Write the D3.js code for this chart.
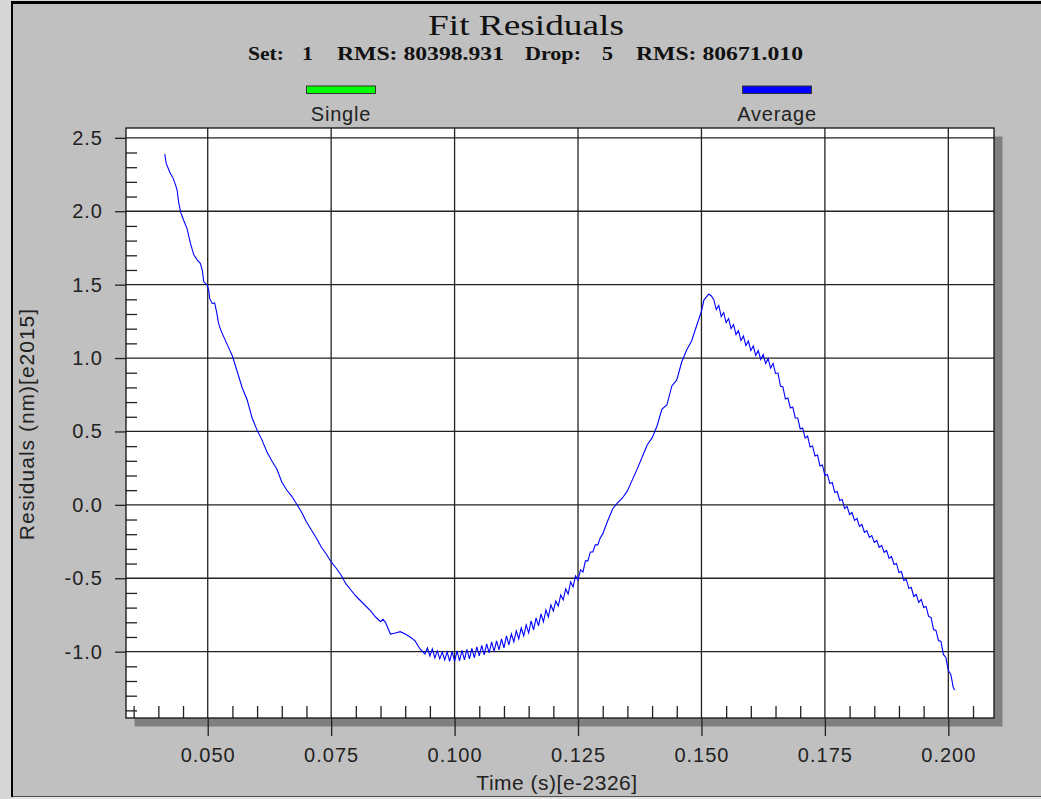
<!DOCTYPE html>
<html>
<head>
<meta charset="utf-8">
<script src="https://cdn.jsdelivr.net/npm/d3@7"></script>
<style>
  html, body { margin: 0; padding: 0; background: #d6d6d6; }
  svg { display: block; }
</style>
</head>
<body>
<script>
// ---- chart text ----
const chartTitle = "Fit Residuals";
const subtitleParts = ["Set:", "1", "RMS: 80398.931", "Drop:", "5", "RMS: 80671.010"];
const xLabel = "Time (s)[e-2326]";
const yLabel = "Residuals (nm)[e2015]";

// ---- legend ----
const seriesNames = ["Single", "Average"];
const seriesColors = ["#00ff00", "#0000ff"];

// ---- axis ticks ----
const xTicks = [0.050, 0.075, 0.100, 0.125, 0.150, 0.175, 0.200];
const yTicks = [-1.0, -0.5, 0.0, 0.5, 1.0, 1.5, 2.0, 2.5];
const xDomain = [0.03345, 0.20925];
const yDomain = [-1.452, 2.567];

// ---- averaged residual series ----
const timeS = [
  0.0413, 0.0416, 0.0423, 0.0430, 0.0435, 0.0438, 0.0441, 0.0445, 0.0451, 0.0458,
  0.0465, 0.0472, 0.0479, 0.0485, 0.0489, 0.0492, 0.0499, 0.0502, 0.0504, 0.0509,
  0.0514, 0.0518, 0.0522, 0.0526, 0.0530, 0.0540, 0.0550, 0.0560, 0.0570, 0.0580,
  0.0590, 0.0600, 0.0610, 0.0620, 0.0630, 0.0640, 0.0650, 0.0660, 0.0670, 0.0680,
  0.0690, 0.0700, 0.0710, 0.0720, 0.0730, 0.0740, 0.0750, 0.0760, 0.0770, 0.0780,
  0.0790, 0.0800, 0.0810, 0.0820, 0.0830, 0.0840, 0.0850, 0.0855, 0.0860, 0.0870,
  0.0880, 0.0890, 0.0900, 0.0910, 0.0920, 0.0930, 0.0940, 0.0945,
  0.0950, 0.0955, 0.0960, 0.0965, 0.0970, 0.0975, 0.0980, 0.0985, 0.0990, 0.0995,
  0.1000, 0.1005, 0.1010, 0.1015, 0.1020, 0.1025, 0.1030, 0.1035, 0.1040, 0.1045,
  0.1050, 0.1055, 0.1060, 0.1065, 0.1070, 0.1075, 0.1080, 0.1085, 0.1090, 0.1095,
  0.1100, 0.1105, 0.1110, 0.1115, 0.1120, 0.1125, 0.1130, 0.1135, 0.1140, 0.1145,
  0.1150, 0.1155, 0.1160, 0.1165, 0.1170, 0.1175, 0.1180, 0.1185, 0.1190, 0.1195,
  0.1200, 0.1205, 0.1210, 0.1215, 0.1220, 0.1225, 0.1230, 0.1235, 0.1240, 0.1245,
  0.1250, 0.1255, 0.1260, 0.1265, 0.1270, 0.1275, 0.1280, 0.1285, 0.1290, 0.1295,
  0.1300,
  0.1310, 0.1320, 0.1330, 0.1340, 0.1350, 0.1360, 0.1370, 0.1380, 0.1390, 0.1400,
  0.1410, 0.1420, 0.1430, 0.1440, 0.1450, 0.1460, 0.1470, 0.1480, 0.1490, 0.1500,
  0.1505, 0.1510, 0.1515, 0.1520,
  0.1525, 0.1530, 0.1535, 0.1540, 0.1545, 0.1550, 0.1555, 0.1560, 0.1565, 0.1570,
  0.1575, 0.1580, 0.1585, 0.1590, 0.1595, 0.1600, 0.1605, 0.1610, 0.1615, 0.1620,
  0.1625, 0.1630, 0.1635, 0.1640, 0.1645, 0.1650, 0.1655, 0.1660, 0.1665, 0.1670,
  0.1675, 0.1680, 0.1685, 0.1690, 0.1695, 0.1700, 0.1705, 0.1710, 0.1715, 0.1720,
  0.1725, 0.1730, 0.1735, 0.1740, 0.1745, 0.1750, 0.1755, 0.1760, 0.1765, 0.1770,
  0.1775, 0.1780, 0.1785, 0.1790, 0.1795, 0.1800, 0.1805, 0.1810, 0.1815, 0.1820,
  0.1825, 0.1830, 0.1835, 0.1840, 0.1845, 0.1850, 0.1855, 0.1860, 0.1865, 0.1870,
  0.1875, 0.1880, 0.1885, 0.1890, 0.1895, 0.1900, 0.1905, 0.1910, 0.1915, 0.1920,
  0.1925, 0.1930, 0.1935, 0.1940, 0.1945, 0.1950, 0.1955, 0.1960, 0.1965, 0.1970,
  0.1975, 0.1980, 0.1985, 0.1990, 0.1995, 0.2000, 0.2005, 0.2010, 0.2013
];
const residual = [
  2.389, 2.326, 2.268, 2.224, 2.178, 2.144, 2.064, 1.996, 1.940, 1.883,
  1.781, 1.701, 1.667, 1.645, 1.599, 1.519, 1.497, 1.463, 1.406, 1.372,
  1.376, 1.315, 1.236, 1.195, 1.163, 1.088, 1.014, 0.905, 0.796, 0.714,
  0.591, 0.509, 0.441, 0.360, 0.299, 0.244, 0.156, 0.101, 0.060, 0.006,
  -0.049, -0.117, -0.171, -0.226, -0.287, -0.335, -0.389, -0.430, -0.478, -0.539,
  -0.580, -0.621, -0.655, -0.689, -0.723, -0.764, -0.796, -0.780, -0.800, -0.880,
  -0.873, -0.864, -0.880, -0.900, -0.927, -0.982, -1.016, -0.975,
  -1.029, -0.981, -1.043, -0.995, -1.049, -1.002, -1.056, -1.002, -1.067, -0.998,
  -1.067, -0.995, -1.063, -0.991, -1.056, -0.985, -1.049, -0.978, -1.043, -0.968,
  -1.029, -0.957, -1.022, -0.947, -1.009, -0.934, -0.998, -0.927, -0.988, -0.913,
  -0.974, -0.893, -0.954, -0.879, -0.934, -0.859, -0.913, -0.838, -0.893, -0.818,
  -0.872, -0.791, -0.852, -0.770, -0.825, -0.743, -0.797, -0.716, -0.764, -0.682,
  -0.723, -0.655, -0.689, -0.614, -0.648, -0.573, -0.607, -0.525, -0.559, -0.484,
  -0.511, -0.443, -0.457, -0.382, -0.382, -0.321, -0.321, -0.273, -0.273, -0.225,
  -0.198,
  -0.110, -0.028, 0.013, 0.047, 0.095, 0.170, 0.245, 0.326, 0.408, 0.456,
  0.537, 0.653, 0.680, 0.810, 0.851, 0.973, 1.055, 1.116, 1.218, 1.320,
  1.395, 1.416, 1.436, 1.423,
  1.398, 1.330, 1.358, 1.283, 1.310, 1.242, 1.269, 1.201, 1.228, 1.160,
  1.187, 1.119, 1.150, 1.085, 1.116, 1.051, 1.082, 1.017, 1.051, 0.990,
  1.024, 0.963, 0.997, 0.932, 0.963, 0.895, 0.898, 0.809, 0.803, 0.721,
  0.728, 0.660, 0.666, 0.592, 0.592, 0.517, 0.523, 0.455, 0.469, 0.394,
  0.401, 0.333, 0.340, 0.265, 0.272, 0.200, 0.207, 0.146, 0.152, 0.084,
  0.091, 0.030, 0.037, -0.025, -0.011, -0.066, -0.052, -0.106, -0.093, -0.147,
  -0.134, -0.188, -0.175, -0.222, -0.209, -0.256, -0.243, -0.290, -0.277, -0.324,
  -0.311, -0.365, -0.352, -0.406, -0.399, -0.461, -0.454, -0.515, -0.508, -0.569,
  -0.563, -0.624, -0.610, -0.665, -0.644, -0.699, -0.692, -0.760, -0.767, -0.849,
  -0.855, -0.924, -0.930, -1.019, -1.039, -1.128, -1.155, -1.244, -1.261
];

// ---- layout ----
const W = 1041, H = 799;
const plot = { left: 126, right: 994, top: 128, bottom: 718 };
const shadowOffset = 8.5;
const labelFont = "'Liberation Sans', Arial, sans-serif";
const serifFont = "'Liberation Serif', 'Times New Roman', serif";
const inkColor = "#222";
// hyphen-minus rather than the typographic minus d3.format emits
const plainMinus = fmt => d => fmt(d).replace("\u2212", "-");

const svg = d3.select("body").append("svg")
  .attr("width", W).attr("height", H);

// window frame
svg.append("rect").attr("width", W).attr("height", H).attr("fill", "#d6d6d6");
svg.append("rect").attr("x", 11).attr("y", 1).attr("width", W - 11).attr("height", 796)
  .attr("fill", "#000");
svg.append("rect").attr("x", 13).attr("y", 4).attr("width", W - 13).attr("height", 792)
  .attr("fill", "#c0c0c0");
svg.append("line").attr("x1", 13).attr("x2", W).attr("y1", 796.5).attr("y2", 796.5)
  .attr("stroke", "#505050").attr("stroke-width", 1);
svg.append("rect").attr("x", 13).attr("y", 797).attr("width", W - 13).attr("height", 2)
  .attr("fill", "#e4e4e4");

const x = d3.scaleLinear().domain(xDomain).range([plot.left, plot.right]);
const y = d3.scaleLinear().domain(yDomain).range([plot.bottom, plot.top]);

// drop shadow and plot face
svg.append("rect")
  .attr("x", plot.left + shadowOffset).attr("y", plot.top + shadowOffset)
  .attr("width", plot.right - plot.left).attr("height", plot.bottom - plot.top)
  .attr("fill", "#808080");
svg.append("rect")
  .attr("x", plot.left).attr("y", plot.top)
  .attr("width", plot.right - plot.left).attr("height", plot.bottom - plot.top)
  .attr("fill", "#fff");

// grid lines at major ticks
const grid = svg.append("g").attr("stroke", inkColor).attr("stroke-width", 1.3);
grid.selectAll("line.gx").data(xTicks).join("line")
  .attr("x1", d => x(d)).attr("x2", d => x(d))
  .attr("y1", plot.top).attr("y2", plot.bottom);
grid.selectAll("line.gy").data(yTicks).join("line")
  .attr("x1", plot.left).attr("x2", plot.right)
  .attr("y1", d => y(d)).attr("y2", d => y(d));

// minor ticks drawn inward from the left and bottom edges
const xMinor = d3.range(35, 206, 5).map(v => v / 1000)
  .filter(v => !xTicks.some(t => Math.abs(t - v) < 1e-9));
const yMinor = d3.range(-14, 26, 1).map(v => v / 10)
  .filter(v => !yTicks.some(t => Math.abs(t - v) < 1e-9));

svg.append("g")
  .attr("transform", `translate(0,${plot.bottom})`)
  .call(d3.axisBottom(x).tickValues(xMinor).tickSize(-12).tickFormat(""))
  .call(g => g.select(".domain").remove())
  .call(g => g.selectAll("line").attr("stroke", inkColor).attr("stroke-width", 1.3));
svg.append("g")
  .attr("transform", `translate(${plot.left},0)`)
  .call(d3.axisLeft(y).tickValues(yMinor).tickSize(-11).tickFormat(""))
  .call(g => g.select(".domain").remove())
  .call(g => g.selectAll("line").attr("stroke", inkColor).attr("stroke-width", 1.3));

// residual curve
svg.append("defs").append("clipPath").attr("id", "plot-clip")
  .append("rect").attr("x", plot.left).attr("y", plot.top)
  .attr("width", plot.right - plot.left).attr("height", plot.bottom - plot.top);

const line = d3.line()
  .x((d, i) => x(timeS[i]))
  .y(d => y(d));

svg.append("path")
  .attr("clip-path", "url(#plot-clip)")
  .attr("d", line(residual))
  .attr("fill", "none")
  .attr("stroke", seriesColors[1])
  .attr("stroke-width", 1.1)
  .attr("stroke-linejoin", "miter");

// plot border
svg.append("rect")
  .attr("x", plot.left).attr("y", plot.top)
  .attr("width", plot.right - plot.left).attr("height", plot.bottom - plot.top)
  .attr("fill", "none").attr("stroke", "#111").attr("stroke-width", 1.3);

// major axes with labels
const styleAxis = g => {
  g.select(".domain").remove();
  g.selectAll("line").attr("stroke", inkColor).attr("stroke-width", 1.3);
  g.selectAll("text")
    .attr("fill", inkColor)
    .style("font-family", labelFont)
    .style("font-size", "20px")
    .style("letter-spacing", "1px");
};
svg.append("g")
  .attr("transform", `translate(0,${plot.bottom})`)
  .call(d3.axisBottom(x).tickValues(xTicks).tickFormat(plainMinus(d3.format(".3f")))
    .tickSize(18).tickPadding(12))
  .call(styleAxis);
svg.append("g")
  .attr("transform", `translate(${plot.left},0)`)
  .call(d3.axisLeft(y).tickValues(yTicks).tickFormat(plainMinus(d3.format(".1f")))
    .tickSize(11).tickPadding(12))
  .call(styleAxis);

// axis titles
svg.append("text")
  .attr("x", 557).attr("y", 790)
  .attr("text-anchor", "middle")
  .attr("fill", inkColor)
  .style("font-family", labelFont).style("font-size", "21px")
  .style("letter-spacing", "0.5px")
  .text(xLabel);
svg.append("text")
  .attr("transform", "translate(34,424) rotate(-90)")
  .attr("text-anchor", "middle")
  .attr("fill", inkColor)
  .style("font-family", labelFont).style("font-size", "21px")
  .style("letter-spacing", "1px")
  .text(yLabel);

// title block
svg.append("text")
  .attr("x", 428).attr("y", 35)
  .attr("textLength", 196).attr("lengthAdjust", "spacingAndGlyphs")
  .attr("fill", "#111")
  .style("font-family", serifFont).style("font-size", "30px")
  .text(chartTitle);

// subtitle pieces: start x and stretched width of each
const subtitleX = [248, 302, 337, 525, 602, 636];
const subtitleW = [36, 11, 167, 56, 11, 167];
svg.append("g").selectAll("text").data(subtitleParts).join("text")
  .attr("x", (d, i) => subtitleX[i]).attr("y", 59.5)
  .attr("textLength", (d, i) => subtitleW[i]).attr("lengthAdjust", "spacingAndGlyphs")
  .attr("fill", "#111")
  .style("font-family", serifFont).style("font-size", "19px").style("font-weight", "bold")
  .text(d => d);

// legend
const legendX = [341, 777];
const legend = svg.append("g");
legend.selectAll("rect").data(seriesNames).join("rect")
  .attr("x", (d, i) => legendX[i] - 34.5).attr("y", 86)
  .attr("width", 69).attr("height", 7.5)
  .attr("fill", (d, i) => seriesColors[i])
  .attr("stroke", "#333").attr("stroke-width", 1);
legend.selectAll("text").data(seriesNames).join("text")
  .attr("x", (d, i) => legendX[i]).attr("y", 121)
  .attr("text-anchor", "middle")
  .attr("fill", inkColor)
  .style("font-family", labelFont).style("font-size", "20px")
  .style("letter-spacing", "0.8px")
  .text(d => d);
</script>
</body>
</html>
